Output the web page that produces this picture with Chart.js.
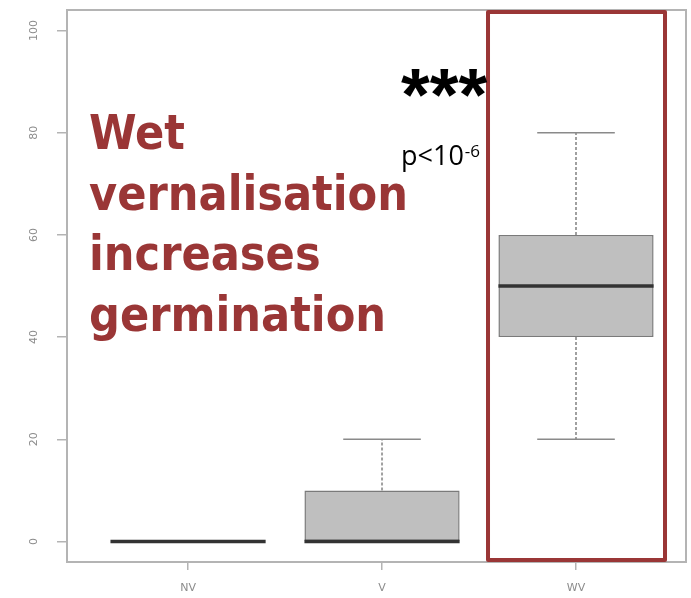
<!DOCTYPE html>
<html>
<head>
<meta charset="utf-8">
<script src="https://cdn.jsdelivr.net/npm/chart.js@4"></script>
<style>
  html, body { margin: 0; padding: 0; background: #fff; overflow: hidden; }
  #wrap { width: 691px; height: 598px; }
</style>
</head>
<body>
<div id="wrap"><canvas id="germChart"></canvas></div>
<script>
// germination (%) per treatment
const groups = ['NV', 'V', 'WV'];
const mins    = [0, 0, 20];
const q1s     = [0, 0, 40];
const medians = [0, 0, 50];
const q3s     = [0, 10, 60];
const maxs    = [0, 20, 80];
const yTicks  = [0, 20, 40, 60, 80, 100];

const red = '#9a3636';

// whiskers, staples, medians, frame and the annotations
const boxExtras = {
  id: 'boxExtras',
  afterDatasetsDraw(chart) {
    const ctx = chart.ctx;
    const x = chart.scales.x, y = chart.scales.y;
    const meta = chart.getDatasetMeta(0);
    ctx.save();
    groups.forEach((g, i) => {
      const cx = x.getPixelForValue(i + 1);
      const w = meta.data[i].width;
      // dashed whiskers
      ctx.strokeStyle = '#a0a0a0';
      ctx.lineWidth = 2;
      ctx.setLineDash([3, 2]);
      ctx.beginPath();
      ctx.moveTo(cx, y.getPixelForValue(q3s[i]));
      ctx.lineTo(cx, y.getPixelForValue(maxs[i]));
      ctx.moveTo(cx, y.getPixelForValue(q1s[i]));
      ctx.lineTo(cx, y.getPixelForValue(mins[i]));
      ctx.stroke();
      ctx.setLineDash([]);
      // staples
      ctx.strokeStyle = '#8a8a8a';
      ctx.lineWidth = 1.5;
      ctx.beginPath();
      [mins[i], maxs[i]].forEach(v => {
        const py = y.getPixelForValue(v);
        ctx.moveTo(cx - w / 4, py);
        ctx.lineTo(cx + w / 4, py);
      });
      ctx.stroke();
      // median
      ctx.strokeStyle = '#333';
      ctx.lineWidth = 3.5;
      ctx.beginPath();
      const my = y.getPixelForValue(medians[i]);
      ctx.moveTo(cx - w / 2, my);
      ctx.lineTo(cx + w / 2, my);
      ctx.stroke();
    });
    ctx.restore();
  },
  afterDraw(chart) {
    const ctx = chart.ctx;
    const a = chart.chartArea;
    const x = chart.scales.x, y = chart.scales.y;
    ctx.save();
    // plot frame
    ctx.strokeStyle = '#b4b4b4';
    ctx.lineWidth = 2;
    ctx.strokeRect(a.left, a.top, a.right - a.left, a.bottom - a.top);

    // y tick labels, rotated like R
    ctx.fillStyle = '#8c8c8c';
    ctx.font = '11px "DejaVu Sans", sans-serif';
    ctx.textAlign = 'center';
    ctx.textBaseline = 'middle';
    yTicks.forEach(v => {
      ctx.save();
      ctx.translate(34, y.getPixelForValue(v));
      ctx.rotate(-Math.PI / 2);
      ctx.fillText(String(v), 0, 0);
      ctx.restore();
    });

    // highlight round WV
    const wx = x.getPixelForValue(3);
    ctx.strokeStyle = red;
    ctx.lineWidth = 4;
    ctx.lineJoin = 'round';
    ctx.strokeRect(wx - 88, a.top + 2, 177, a.bottom - a.top - 4);

    // message
    ctx.fillStyle = red;
    ctx.fontStretch = 'condensed';
    ctx.font = 'bold 48px "DejaVu Sans Condensed", "DejaVu Sans", sans-serif';
    ctx.textAlign = 'left';
    ctx.textBaseline = 'alphabetic';
    ['Wet', 'vernalisation', 'increases', 'germination'].forEach((t, k) => {
      ctx.fillText(t, 89, 149 + k * 60.5);
    });
    ctx.fontStretch = 'normal';

    // significance
    ctx.fillStyle = '#000';
    ctx.font = 'bold 74px "Liberation Sans", sans-serif';
    ctx.fillText('***', 401, 120);
    ctx.font = '27px "Open Sans", sans-serif';
    ctx.fillText('p<10', 401, 165);
    const pw = ctx.measureText('p<10').width;
    ctx.font = '17px "Open Sans", sans-serif';
    ctx.fillText('-6', 401 + pw + 1, 157);
    ctx.restore();
  }
};

const boxes = groups.map((g, i) => ({ x: i + 1, y: [q1s[i], q3s[i]] }));

new Chart(document.getElementById('germChart'), {
  type: 'bar',
  data: {
    datasets: [{
      data: boxes,
      backgroundColor: '#bfbfbf',
      borderColor: '#7a7a7a',
      borderWidth: 1.5,
      borderSkipped: false,
      barPercentage: 0.8,
      categoryPercentage: 1
    }]
  },
  options: {
    responsive: true,
    maintainAspectRatio: false,
    animation: false,
    layout: { padding: { top: 10, right: 5, left: 0, bottom: 0 } },
    plugins: { legend: { display: false }, tooltip: { enabled: false } },
    scales: {
      x: {
        type: 'linear',
        offset: false,
        min: 0.376,
        max: 3.567,
        afterBuildTicks: axis => { axis.ticks = groups.map((g, i) => ({ value: i + 1 })); },
        afterFit: axis => { axis.height = 36; },
        border: { display: false },
        grid: { offset: false, drawOnChartArea: false, drawTicks: true, tickLength: 8, color: '#b4b4b4', lineWidth: 1.5 },
        ticks: {
          callback: v => groups[v - 1],
          color: '#8c8c8c',
          font: { size: 11, family: '"DejaVu Sans", sans-serif' },
          padding: 12,
          maxRotation: 0
        }
      },
      y: {
        min: -4,
        max: 104,
        afterBuildTicks: axis => { axis.ticks = yTicks.map(v => ({ value: v })); },
        afterFit: axis => { axis.width = 67; },
        border: { display: false },
        grid: { drawOnChartArea: false, drawTicks: true, tickLength: 10, color: '#b4b4b4', lineWidth: 1.5 },
        ticks: { display: false }
      }
    }
  },
  plugins: [boxExtras]
});
</script>
</body>
</html>
